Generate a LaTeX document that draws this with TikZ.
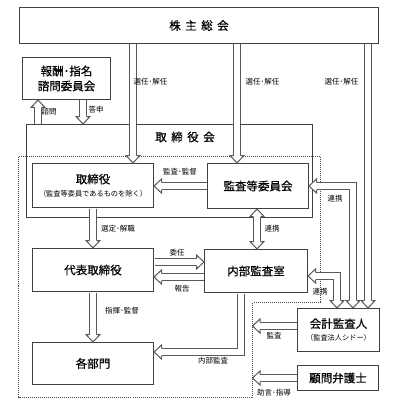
\documentclass[tikz,border=0pt]{standalone}
\usepackage{fontspec}
\setmainfont{Noto Sans CJK JP}
\newfontfamily\titlefont{Noto Sans CJK JP}[FakeBold=0.6]
\usetikzlibrary{decorations.markings}

% hollow heads of the block arrows
\newcommand\headend{%
  \fill[white] (0,0) -- (-7.5pt,7pt) -- (-7.5pt,-7pt) -- cycle;
  \draw[black!65,line width=1pt,shorten >=0pt,shorten <=0pt] (-7.5pt,3.5pt) -- (-7.5pt,7pt) -- (0,0) -- (-7.5pt,-7pt) -- (-7.5pt,-3.5pt);}
\newcommand\headstart{%
  \fill[white] (0,0) -- (7.5pt,7pt) -- (7.5pt,-7pt) -- cycle;
  \draw[black!65,line width=1pt,shorten >=0pt,shorten <=0pt] (7.5pt,3.5pt) -- (7.5pt,7pt) -- (0,0) -- (7.5pt,-7pt) -- (7.5pt,-3.5pt);}

\begin{document}
\begin{tikzpicture}[x=1pt,y=-1pt,
  box/.style={draw=black!75,line width=1pt,fill=white,align=center,inner sep=0pt,font=\titlefont\fontsize{11.5}{15}\selectfont},
  lbl/.style={inner sep=0pt,font=\fontsize{7.5}{9}\selectfont},
  small/.style={},
  blk/.style={preaction={draw=black!65,line width=8pt},
    draw=white,line width=6pt,shorten >=7.5pt,shorten <=0.5pt,
    postaction={decorate,decoration={markings,mark=at position 1 with {\headend}}}},
  blk2/.style={preaction={draw=black!65,line width=8pt},
    draw=white,line width=6pt,shorten >=7.5pt,shorten <=7.5pt,
    postaction={decorate,decoration={markings,mark=at position 0 with {\headstart},mark=at position 1 with {\headend}}}}]
\useasboundingbox (0,0) rectangle (395,401);
% shareholders and committee
\node[box,minimum width=359pt,minimum height=36pt] (kabu) at (199,25.5) {株\hspace{4.5pt}主\hspace{4.5pt}総\hspace{4.5pt}会};
\node[box,minimum width=88pt,minimum height=42pt] (hoshu) at (66.5,78.5) {報酬･指名\\諮問委員会};
% board frame and dotted area
\node[draw=black!75,line width=1pt,minimum width=286pt,minimum height=93pt,inner sep=0pt] (board) at (169.5,171) {};
\node[inner sep=0pt,font=\titlefont\fontsize{11.5}{15}\selectfont] (boardtitle) at (185,137) {取\hspace{4.5pt}締\hspace{4.5pt}役\hspace{4.5pt}会};
\draw[black!70,line width=1pt,dash pattern=on 1pt off 1pt] (18.5,156.5) -- (320.5,156.5) -- (320.5,302.5) -- (252.5,302.5) -- (252.5,397.5) -- (18.5,397.5) -- cycle;
\coordinate (auditedge) at (252.5,302.5);
% boxes
\node[box,minimum width=121pt,minimum height=44pt] (tori) at (93,185.5) {取締役\\[-2pt]{\normalfont\fontsize{7.2}{8}\selectfont （監査等委員であるものを除く）}};
\node[box,minimum width=101pt,minimum height=45pt] (kansa) at (258,186) {監査等委員会};
\node[box,minimum width=121pt,minimum height=43pt] (daihyo) at (93,270) {代表取締役};
\node[box,minimum width=103pt,minimum height=43pt] (naibu) at (256,271) {内部監査室};
\node[box,minimum width=121pt,minimum height=42pt] (kakubu) at (93,363.5) {各部門};
\node[box,minimum width=82pt,minimum height=43pt] (kaikei) at (338.5,330) {会計監査人\\[-2pt]{\normalfont\fontsize{7.2}{8}\selectfont （監査法人シドー）}};
\node[box,minimum width=81pt,minimum height=25pt] (komon) at (338,378) {顧問弁護士};
% columns of the vertical arrows
\coordinate (colA) at (133,0);
\coordinate (colB) at (237,0);
\coordinate (colC) at (368,0);
\coordinate (colD) at (353,0);
\coordinate (colE) at (337,0);
\coordinate (colF) at (241,0);
\coordinate (colG) at (257,0);
\coordinate (colH) at (38,0);
\coordinate (colI) at (83,0);
% arrows
\draw[blk] (kabu.south -| colA) -- (tori.north -| colA);
\draw[blk] (kabu.south -| colB) -- (kansa.north -| colB);
\draw[blk] (kabu.south -| colC) -- (kaikei.north -| colC);
\draw[blk] (board.north -| colH) -- (hoshu.south -| colH);
\draw[blk] (hoshu.south -| colI) -- (board.north -| colI);
\draw[blk] (kansa.west) -- (kansa.west -| tori.east);
\draw[blk2] (kansa.east) -| (kaikei.north -| colD);
\draw[blk2] (kansa.south -| colG) -- (naibu.north -| colG);
\draw[blk] (tori.south) -- (daihyo.north);
\draw[blk] ([yshift=8pt]daihyo.east) coordinate (ninA) -- (ninA -| naibu.west);
\draw[blk] ([yshift=-6pt]naibu.west) coordinate (hokA) -- (hokA -| daihyo.east);
\draw[blk2] ([yshift=-5pt]naibu.east) -| (kaikei.north -| colE);
\draw[blk] (daihyo.south) -- (kakubu.north);
\draw[blk] (naibu.south -| colF) |- ([yshift=11.5pt]kakubu.east);
\draw[blk] ([yshift=4pt]kaikei.west) coordinate (kanA) -- (kanA -| auditedge);
\draw[blk] (komon.west) -- (komon.west -| auditedge);
% labels
\node[lbl] (selA) at (150.5,82) {選任･解任};
\node[lbl] (selB) at (262.5,82) {選任･解任};
\node[lbl] (selC) at (341.5,82) {選任･解任};
\node[lbl] (shimon) at (49,112) {諮問};
\node[lbl] (toshin) at (96,110) {答申};
\node[lbl] (kantoku) at (180,172) {監査･監督};
\node[lbl] (sentei) at (118,229) {選定･解職};
\node[lbl] (renA) at (272,229) {連携};
\node[lbl] (renB) at (335,199) {連携};
\node[lbl] (renC) at (320,292) {連携};
\node[lbl] (inin) at (177,253) {委任};
\node[lbl] (hokoku) at (182,289) {報告};
\node[lbl] (shiki) at (122,311) {指揮･監督};
\node[lbl] (naikan) at (213,361) {内部監査};
\node[lbl] (kansalbl) at (274,336) {監査};
\node[lbl] (jogen) at (274,393) {助言･指導};
\end{tikzpicture}
\end{document}
